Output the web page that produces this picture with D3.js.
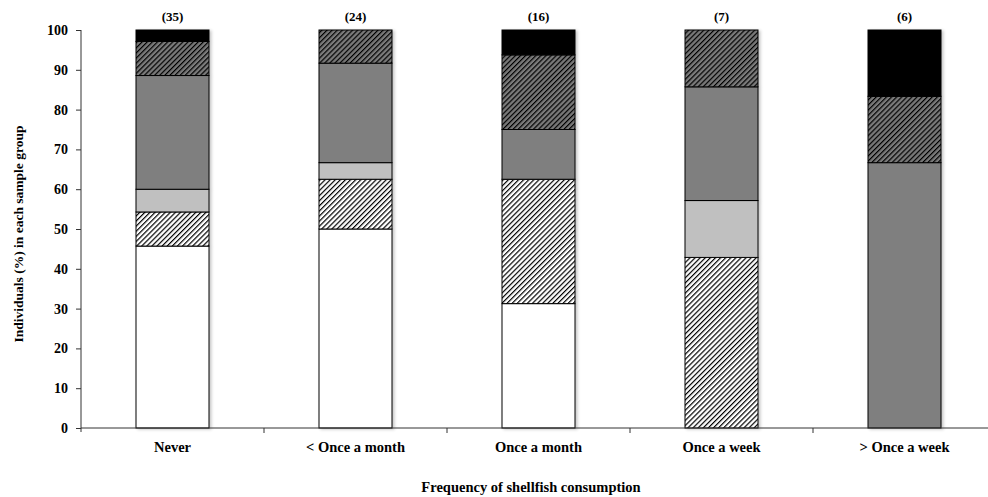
<!DOCTYPE html>
<html><head><meta charset="utf-8">
<script src="https://cdn.jsdelivr.net/npm/d3@7"></script>
<style>
body{margin:0;background:#fff;}
svg text{font-family:"Liberation Serif","Times New Roman",serif;font-weight:bold;fill:#000;}
</style></head>
<body><svg id="chart" width="988" height="497"></svg>
<script>
const categories = ["Never", "< Once a month", "Once a month", "Once a week", "> Once a week"];
const sampleSizes = ["(35)", "(24)", "(16)", "(7)", "(6)"];
const seriesKeys = ["s1", "s2", "s3", "s4", "s5", "s6"];
const s1 = [45.71, 50.00, 31.25, 0, 0];
const s2 = [8.57, 12.50, 31.25, 42.86, 0];
const s3 = [5.71, 4.17, 0, 14.29, 0];
const s4 = [28.57, 25.00, 12.50, 28.57, 66.67];
const s5 = [8.57, 8.33, 18.75, 14.28, 16.67];
const s6 = [2.87, 0, 6.25, 0, 16.66];
const yTicks = [0, 10, 20, 30, 40, 50, 60, 70, 80, 90, 100];
const yTitle = "Individuals (%) in each sample group";
const xTitle = "Frequency of shellfish consumption";

const seriesVals = {s1, s2, s3, s4, s5, s6};
const table = categories.map((c, i) => {
  const r = {cat: c};
  seriesKeys.forEach(k => r[k] = seriesVals[k][i]);
  return r;
});

const svg = d3.select("#chart");
const defs = svg.append("defs");
function hatch(id, bg) {
  const s = 3.6;
  const p = defs.append("pattern").attr("id", id).attr("patternUnits", "userSpaceOnUse")
    .attr("width", s).attr("height", s).attr("patternTransform", "rotate(45)");
  p.append("rect").attr("width", s).attr("height", s).attr("fill", bg);
  p.append("line").attr("x1", 0.6).attr("y1", 0).attr("x2", 0.6).attr("y2", s)
    .attr("stroke", "#000").attr("stroke-width", 1.2);
}
hatch("hLight", "#fff");
hatch("hDark", "#7a7a7a");
const f = defs.append("filter").attr("id", "shadow").attr("x", "-20%").attr("y", "-5%").attr("width", "140%").attr("height", "110%");
f.append("feDropShadow").attr("dx", 2).attr("dy", 1).attr("stdDeviation", 1.5).attr("flood-color", "#000").attr("flood-opacity", 0.22);

const fills = {s1: "#ffffff", s2: "url(#hLight)", s3: "#c0c0c0", s4: "#7f7f7f", s5: "url(#hDark)", s6: "#000000"};

const xOuter = d3.scaleBand().domain(categories).range([81, 996]);
const y = d3.scaleLinear().domain([0, 100]).range([428, 30]);
const barW = 73;

const stack = d3.stack().keys(seriesKeys)(table);

const barG = svg.append("g").attr("filter", "url(#shadow)");
stack.forEach(layer => {
  barG.selectAll(null).data(layer.filter(d => d[1] - d[0] > 0.01)).enter().append("rect")
    .attr("x", d => xOuter(d.data.cat) + (xOuter.bandwidth() - barW) / 2)
    .attr("width", barW)
    .attr("y", d => y(d[1]))
    .attr("height", d => y(d[0]) - y(d[1]))
    .attr("fill", fills[layer.key])
    .attr("stroke", "#000").attr("stroke-width", 1);
});

// y axis
const yAxis = svg.append("g").attr("transform", "translate(81,0)")
  .call(d3.axisLeft(y).tickValues(yTicks).tickSize(5).tickPadding(8));
yAxis.selectAll("text").style("font-size", "14px");
yAxis.select(".domain").attr("d", "M0,30V432").attr("stroke", "#333");
yAxis.selectAll(".tick line").attr("stroke", "#333");

// x axis
const xAxis = svg.append("g").attr("transform", "translate(0,428)")
  .call(d3.axisBottom(xOuter).tickSize(0).tickPadding(14));
xAxis.selectAll("text").style("font-size", "14.5px");
xAxis.select(".domain").attr("d", "M81,0H988").attr("stroke", "#333");
svg.append("g").selectAll("line").data(categories.slice(1)).enter().append("line")
  .attr("x1", d => xOuter(d)).attr("x2", d => xOuter(d))
  .attr("y1", 428).attr("y2", 433).attr("stroke", "#333");

// sample sizes
svg.append("g").selectAll("text").data(categories).enter().append("text")
  .attr("x", d => xOuter(d) + xOuter.bandwidth() / 2).attr("y", 21)
  .attr("text-anchor", "middle").style("font-size", "13px")
  .text((d, i) => sampleSizes[i]);

// titles
svg.append("text").attr("x", 531).attr("y", 492).attr("text-anchor", "middle")
  .style("font-size", "14.5px").text(xTitle);
svg.append("text").attr("transform", "translate(23,234) rotate(-90)").attr("text-anchor", "middle")
  .style("font-size", "13.5px").text(yTitle);
</script></body></html>
